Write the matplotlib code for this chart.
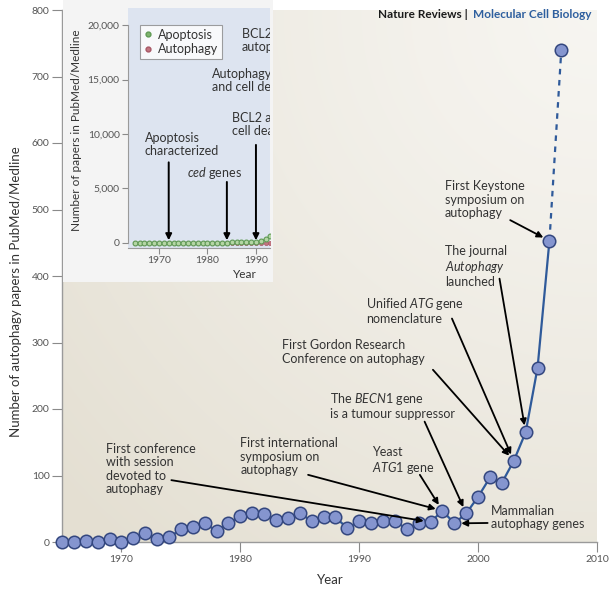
import numpy as np
import matplotlib
matplotlib.use('Agg')
import matplotlib.pyplot as plt
from matplotlib.patches import Rectangle
from matplotlib.lines import Line2D

plt.rcParams['font.family'] = ['Lato', 'DejaVu Sans']
plt.rcParams['mathtext.fontset'] = 'custom'
plt.rcParams['mathtext.rm'] = 'Lato'
plt.rcParams['mathtext.it'] = 'Lato:italic'

# autophagy papers per year (main panel)
years = list(range(1965, 2008))
autophagy = [0, 0, 1, 0, 5, 0, 6, 14, 5, 7, 19, 22, 29, 16, 28, 39, 44, 42, 33, 36,
             44, 31, 38, 37, 21, 31, 28, 32, 32, 19, 29, 30, 47, 28, 43, 68, 97, 89,
             122, 165, 262, 453, 740]

# inset: apoptosis vs autophagy
inset_years = list(range(1965, 1994))
apoptosis = [0, 0, 0, 0, 0, 0, 0, 5, 8, 10, 12, 15, 18, 20, 22, 25, 30, 35, 40, 45,
             50, 55, 60, 70, 80, 110, 180, 350, 600]
autophagy_inset = autophagy[:len(inset_years)]

# (label, text x, text y, arrow start x, arrow start y, target year)
notes = [
    ('First conference\nwith session\ndevoted to\nautophagy', 1968.7, 110, 1974.2, 93, 1996),
    ('First international\nsymposium on\nautophagy', 1980.0, 128, 1985.7, 101, 1997),
    ('Yeast\n$ATG1$ gene', 1991.1, 122, 1995.1, 101, 1997),
    ('The $BECN1$ gene\nis a tumour suppressor', 1987.5, 205, 1995.5, 181, 1999),
    ('Mammalian\nautophagy genes', 2001.1, 37, 2000.8, 28.6, 1998),
    ('First Gordon Research\nConference on autophagy', 1983.5, 286, 1996.2, 259, 2003),
    ('Unified $ATG$ gene\nnomenclature', 1990.6, 348, 1997.8, 336, 2003),
    ('The journal\n$Autophagy$\nlaunched', 1997.2, 414, 2001.8, 396, 2004),
    ('First Keystone\nsymposium on\nautophagy', 1997.2, 515, 2002.7, 484, 2006),
]

# (label, text x, text y, arrow x, arrow top)
inset_notes = [
    ('Apoptosis\ncharacterized', 1967.1, 9040, 1972, 7400),
    ('$ced$ genes', 1975.8, 6420, 1984, 5600),
    ('BCL2 and\ncell death', 1985.0, 10870, 1990, 9000),
    ('Autophagy\nand cell death', 1980.9, 14900, None, None),
    ('BCL2 and\nautophagy', 1987.1, 18580, None, None),
]

W, H = 612, 592
fig = plt.figure(figsize=(W / 100, H / 100), dpi=100)


def box(l, t, r, b):
    return [l / W, 1 - b / H, (r - l) / W, (b - t) / H]


ax = fig.add_axes(box(62, 10, 597, 542))

# beige gradient background
gx, gy = np.meshgrid(np.linspace(0, 1, 200), np.linspace(0, 1, 200))
d = np.clip(np.hypot(1 - gx, 1 - gy) / 1.35, 0, 1)
light = np.array([0.968, 0.962, 0.945])
dark = np.array([0.895, 0.876, 0.825])
img = light + (dark - light) * (d[..., None] ** 1.2)
ax.imshow(img, extent=[0, 1, 0, 1], transform=ax.transAxes, origin='lower',
          aspect='auto', zorder=0, interpolation='bilinear')

line_c = '#2f5a9a'
ax.plot(years[:-1], autophagy[:-1], '-', color=line_c, lw=1.6, zorder=3)
ax.plot(years[-2:], autophagy[-2:], '--', color=line_c, lw=1.6, dashes=(2.5, 2.5), zorder=3)
ax.plot(years, autophagy, 'o', ms=9, mfc='#8595cf', mec='#34477f', mew=1.1,
        zorder=4, clip_on=False)

for label, tx, ty, sx, sy, yr in notes:
    ax.text(tx, ty, label, fontsize=9, color='#333333', ha='left', va='center',
            linespacing=1.15, zorder=5)
    ax.annotate('', xy=(yr, autophagy[years.index(yr)]), xytext=(sx, sy),
                arrowprops=dict(arrowstyle='-|>', color='black', lw=1.3,
                                mutation_scale=9, shrinkA=0, shrinkB=5),
                zorder=5)

ax.set_xlim(1965, 2010)
ax.set_ylim(0, 800)
ax.set_xticks(range(1970, 2011, 10))
ax.set_yticks(range(0, 801, 100))
for s in ['top', 'right']:
    ax.spines[s].set_visible(False)
for s in ['left', 'bottom']:
    ax.spines[s].set_color('#9a9a9a')
    ax.spines[s].set_linewidth(1.0)
ax.tick_params(length=7, width=0.8, color='#8a8a8a', labelcolor='#555555',
               labelsize=7.5, pad=2)

fig.text(16 / W, 1 - 292 / H, 'Number of autophagy papers in PubMed/Medline',
         rotation=90, ha='center', va='center', fontsize=9.5, color='#333333')
fig.text(330 / W, 1 - 580 / H, 'Year', ha='center', va='center', fontsize=9.5,
         color='#333333')

# inset panel
fig.add_artist(Rectangle((63 / W, 1 - 282 / H), (273 - 63) / W, 282 / H,
                         transform=fig.transFigure, fc='#f4f4f4', ec='none', zorder=2))
ins = fig.add_axes(box(128, 8, 270, 248), zorder=3)
ins.set_facecolor('#dde4f0')
ins.plot(inset_years, apoptosis, 'o-', color='#5f9a55', ms=3.5, mfc='#b5d6a5',
         mec='#5f9a55', mew=0.8, lw=0.8, zorder=3, clip_on=True)
ins.plot(inset_years, autophagy_inset, 'o', ms=3.0, mfc='#c27580', mec='#a85866',
         mew=0.5, zorder=2)
ins.set_xlim(1963.6, 1992.9)
ins.set_ylim(-459, 21560)
ins.set_xticks([1970, 1980, 1990])
ins.set_yticks(range(0, 20001, 5000))
ins.set_yticklabels(['0', '5,000', '10,000', '15,000', '20,000'])
for s in ['top', 'right']:
    ins.spines[s].set_visible(False)
for s in ['left', 'bottom']:
    ins.spines[s].set_color('#9a9a9a')
ins.spines['left'].set_bounds(0, 20000)
ins.tick_params(length=4, width=0.8, color='#8a8a8a', labelcolor='#555555',
                labelsize=7.5, pad=2)

for label, tx, ty, axx, top in inset_notes:
    ins.text(tx, ty, label, fontsize=9, color='#333333', ha='left', va='center',
             linespacing=1.15, clip_on=True)
    if axx is not None:
        ins.annotate('', xy=(axx, 250), xytext=(axx, top),
                     arrowprops=dict(arrowstyle='-|>', color='black', lw=1.4,
                                     mutation_scale=9, shrinkA=0, shrinkB=0))

handles = [Line2D([], [], ls='none', marker='o', ms=3.5, mfc='#7fb36e', mec='#5f9a55'),
           Line2D([], [], ls='none', marker='o', ms=3.5, mfc='#c27580', mec='#a85866')]
leg = ins.legend(handles, ['Apoptosis', 'Autophagy'], loc='upper left',
                 bbox_to_anchor=((140 - 128) / 142, (248 - 25) / 240), fontsize=9,
                 frameon=True, fancybox=False, handlelength=0.6, handletextpad=0.5,
                 borderpad=0.3, labelspacing=0.2, borderaxespad=0)
leg.get_frame().set_edgecolor('#888888')
leg.get_frame().set_linewidth(0.8)
for t in leg.get_texts():
    t.set_color('#333333')

fig.text(77 / W, 1 - 130 / H, 'Number of papers in PubMed/Medline', rotation=90,
         ha='center', va='center', fontsize=8.5, color='#333333', zorder=4)
fig.text(245 / W, 1 - 275 / H, 'Year', ha='center', va='center', fontsize=8.5,
         color='#333333', zorder=4)

# journal header
fig.text(468 / W, 1 - 14 / H, 'Nature Reviews |', ha='right', va='center',
         fontsize=8.5, fontweight='bold', color='#1a1a1a', zorder=5)
fig.text(473 / W, 1 - 14 / H, 'Molecular Cell Biology', ha='left', va='center',
         fontsize=8.5, fontweight='bold', color='#2e5f9e', zorder=5)

fig.savefig('out.png', dpi=100)
